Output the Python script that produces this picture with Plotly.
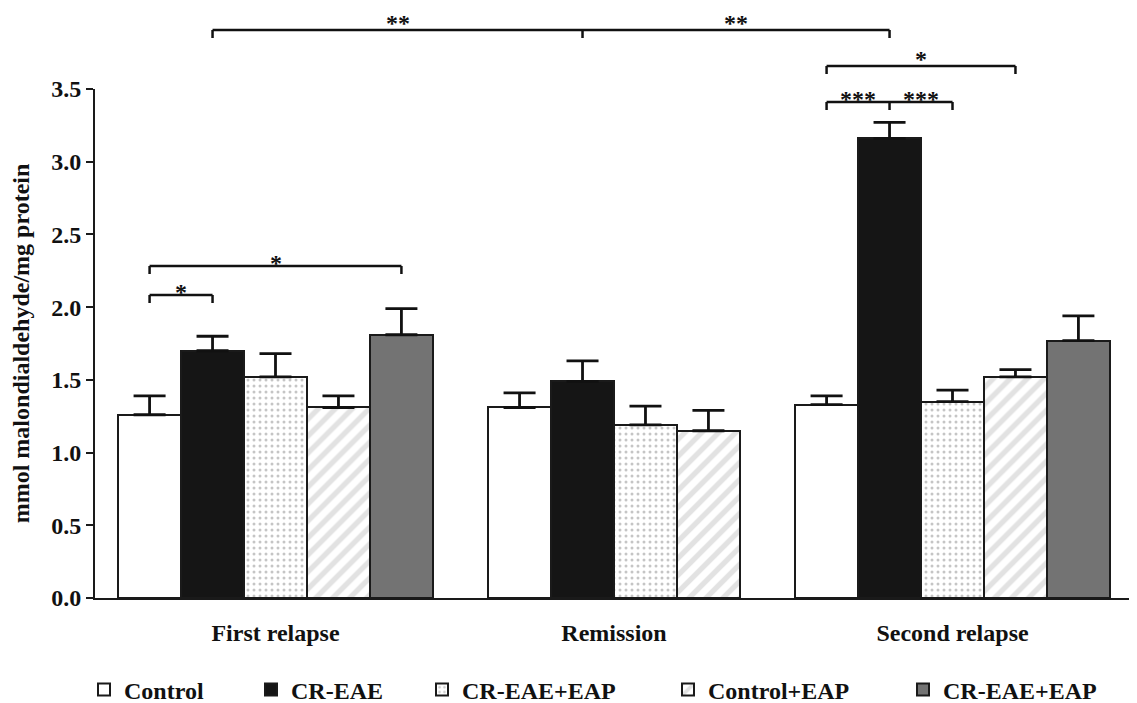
import plotly.graph_objects as go

# ---------------- data ----------------
groups = ["First relapse", "Remission", "Second relapse"]
series_names = ["Control", "CR-EAE", "CR-EAE+EAP", "Control+EAP", "CR-EAE+EAP"]

control = [1.26, 1.31, 1.33]
control_err = [0.13, 0.10, 0.06]
cr_eae = [1.70, 1.49, 3.16]
cr_eae_err = [0.10, 0.14, 0.11]
cr_eae_eap = [1.52, 1.19, 1.35]
cr_eae_eap_err = [0.16, 0.13, 0.08]
control_eap = [1.31, 1.15, 1.52]
control_eap_err = [0.08, 0.14, 0.05]
cr_eae_eap_dark = [1.81, None, 1.77]
cr_eae_eap_dark_err = [0.18, None, 0.17]

y_ticks = [0.0, 0.5, 1.0, 1.5, 2.0, 2.5, 3.0, 3.5]

# significance brackets: list of (group, series) end/joint points, labels per segment
sig_points = [
    [(0, 1), (1, 1), (2, 1)],
    [(0, 0), (0, 1)],
    [(0, 0), (0, 4)],
    [(2, 0), (2, 3)],
    [(2, 0), (2, 1), (2, 2)],
]
sig_labels = [["**", "**"], ["*"], ["*"], ["*"], ["***", "***"]]

means = [control, cr_eae, cr_eae_eap, control_eap, cr_eae_eap_dark]
errs = [control_err, cr_eae_err, cr_eae_eap_err, control_eap_err, cr_eae_eap_dark_err]

# ---------------- style ----------------
FONT = "Liberation Serif"
FS = 24
BW = 0.186
OFF = 8                                   # page body margin
PAGE_W, PAGE_H = 1137, 703
W, H = PAGE_W - OFF, PAGE_H - OFF
# plot area in page pixels
PX0, PX1, PY0, PY1 = 95, 1133, 89, 598
L, R, T, B = PX0 - OFF, PAGE_W - PX1, PY0 - OFF, PAGE_H - PY1
PH = PY1 - PY0
PW = PX1 - PX0

bracket_px = [30, 295, 266, 66, 102]      # vertical page-pixel level of each bracket
star_shift = [7, 3, 3, 7, 3]
legend_text_px = [124, 291, 462, 708, 943]
legend_y_px = 690

fills = ["#ffffff", "#151515", "#ffffff", "#ffffff", "#737373"]
patterns = [
    None,
    None,
    dict(shape=".", fgcolor="#8c8c8c", bgcolor="#ffffff", size=6, solidity=0.2),
    dict(shape="/", fgcolor="#c6c6c6", bgcolor="#ffffff", size=12, solidity=0.45),
    None,
]


def bar_x(g, s):
    present = [k for k in range(len(means)) if means[k][g] is not None]
    idx = present.index(s)
    return g + (idx - (len(present) - 1) / 2) * BW


fig = go.Figure()
for s, name in enumerate(series_names):
    xs, ys, es = [], [], []
    for g in range(len(groups)):
        if means[s][g] is None:
            continue
        xs.append(bar_x(g, s))
        ys.append(means[s][g])
        es.append(errs[s][g])
    marker = dict(color=fills[s], line=dict(color="#1a1a1a", width=2))
    if patterns[s]:
        marker["pattern"] = patterns[s]
    fig.add_trace(go.Bar(
        x=xs, y=ys, name=name, width=BW, marker=marker,
        error_y=dict(type="data", symmetric=False, array=es, arrayminus=[0] * len(es),
                     color="#111111", thickness=2.8, width=16),
        legend="legend" if s == 0 else f"legend{s + 1}",
        showlegend=True,
    ))

# significance brackets
shapes = []
annotations = []
for pts, labs, lvl, sh in zip(sig_points, sig_labels, bracket_px, star_shift):
    yp = (PY1 - lvl) / PH
    yt = (PY1 - lvl - 8) / PH
    xs = [bar_x(g, s) for g, s in pts]
    shapes.append(dict(type="line", xref="x", yref="paper", x0=xs[0], x1=xs[-1], y0=yp, y1=yp,
                       line=dict(color="#111111", width=2.5)))
    for x in xs:
        shapes.append(dict(type="line", xref="x", yref="paper", x0=x, x1=x, y0=yt, y1=yp,
                           line=dict(color="#111111", width=2.5)))
    for i, lab in enumerate(labs):
        annotations.append(dict(x=(xs[i] + xs[i + 1]) / 2, y=yp, xref="x", yref="paper",
                                text=lab, showarrow=False, yanchor="middle", yshift=sh,
                                font=dict(family=FONT, size=FS, color="#111111", weight="bold")))

layout_legends = {}
for s in range(len(series_names)):
    key = "legend" if s == 0 else f"legend{s + 1}"
    layout_legends[key] = dict(
        xref="container", yref="container",
        x=(legend_text_px[s] - 40 - OFF) / W, xanchor="left",
        y=1 - (legend_y_px - OFF) / H, yanchor="middle",
        orientation="h", bgcolor="rgba(0,0,0,0)",
        font=dict(family=FONT, size=FS, color="#111111", weight="bold"),
    )

# group centres in page pixels (first and last group) define the x scale
G0, G2 = 275.5, 952.5
unit = (G2 - G0) / 2

fig.update_layout(
    width=W, height=H,
    margin=dict(l=L, r=R, t=T, b=B, autoexpand=False),
    paper_bgcolor="white", plot_bgcolor="white",
    bargap=0, barmode="overlay",
    shapes=shapes, annotations=annotations,
    font=dict(family=FONT, color="#111111"),
    **layout_legends,
)
fig.update_xaxes(
    range=[(PX0 - G0) / unit, (PX1 - G0) / unit],
    tickvals=list(range(len(groups))), ticktext=groups,
    showline=True, linecolor="#1a1a1a", linewidth=2,
    ticks="outside", ticklen=12, tickcolor="rgba(0,0,0,0)",
    showgrid=False, zeroline=False, automargin=False,
    tickfont=dict(family=FONT, size=FS, color="#111111", weight="bold"),
)
fig.update_yaxes(
    range=[0, 3.5], tickvals=y_ticks, tickformat=".1f",
    showline=True, linecolor="#1a1a1a", linewidth=2,
    ticks="outside", ticklen=7, tickwidth=2, tickcolor="#1a1a1a",
    showgrid=False, zeroline=False, automargin=False,
    tickfont=dict(family=FONT, size=FS, color="#111111", weight="bold"),
    title=dict(text="mmol malondialdehyde/mg protein", standoff=15,
               font=dict(family=FONT, size=FS, color="#111111", weight="bold")),
)

fig.write_html("out.html")
